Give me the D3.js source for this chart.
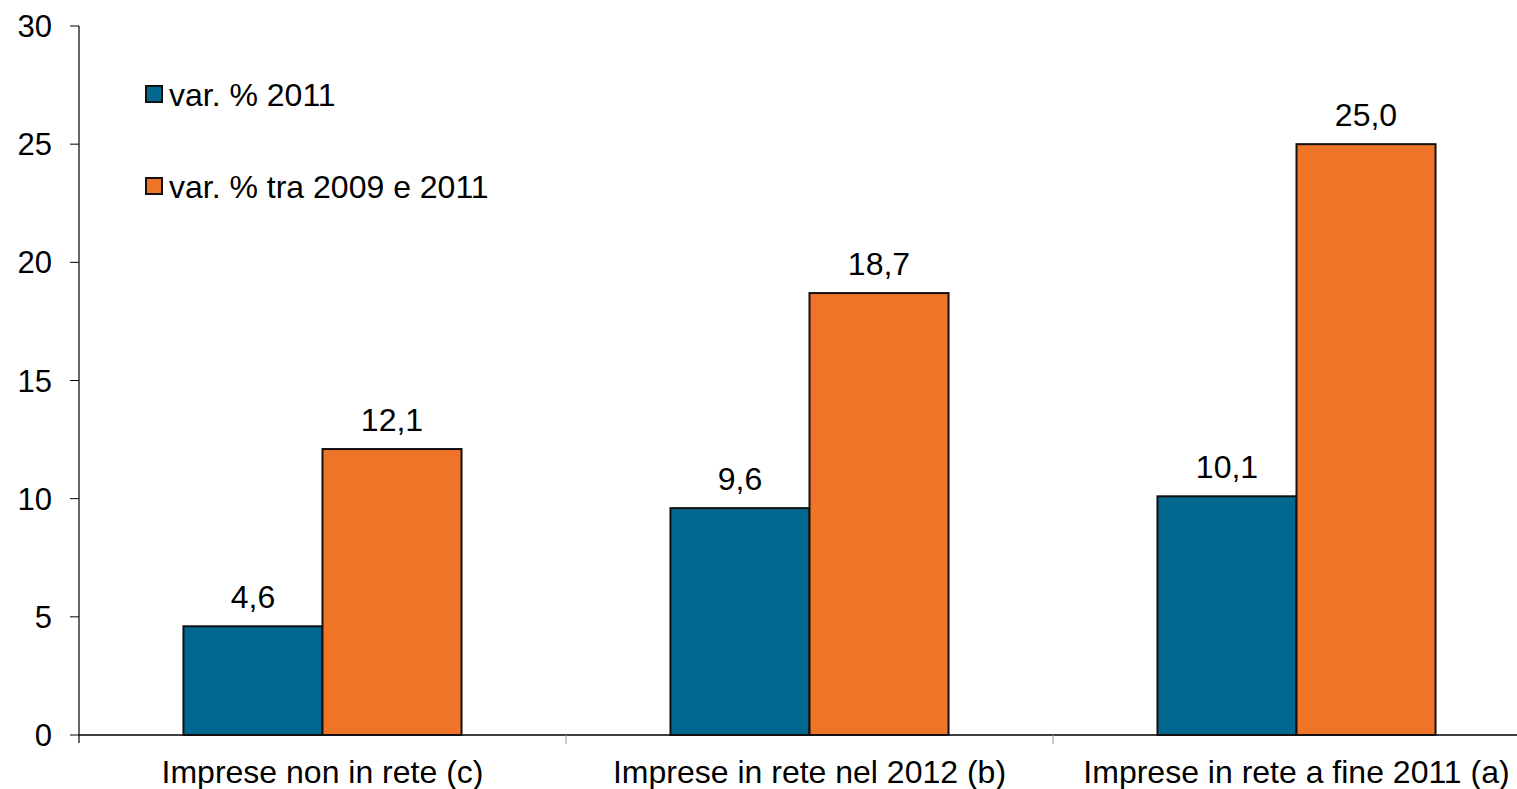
<!DOCTYPE html>
<html>
<head>
<meta charset="utf-8">
<script src="https://cdn.jsdelivr.net/npm/d3@7"></script>
<style>
  html, body { margin: 0; padding: 0; background: #fff; }
  svg { display: block; font-family: "Liberation Sans", Arial, Helvetica, sans-serif; }
</style>
</head>
<body>
<svg id="chart" width="1517" height="789"></svg>
<script>
const categories = ["Imprese non in rete (c)", "Imprese in rete nel 2012 (b)", "Imprese in rete a fine 2011 (a)"];
const seriesNames = ["var. % 2011", "var. % tra 2009 e 2011"];
const var2011 = [4.6, 9.6, 10.1];
const var2009_2011 = [12.1, 18.7, 25.0];
const yTicks = [0, 5, 10, 15, 20, 25, 30];
const colors = ["#02688f", "#f07427"];

const svg = d3.select("#chart");
const fontSize = 32;
const tickFontSize = 31;

const y = d3.scaleLinear().domain([0, 30]).range([735, 26]);
const x0 = d3.scaleBand().domain(categories).range([79, 1540]).paddingInner(0.429).paddingOuter(0.2145);
const x1 = d3.scaleBand().domain(seriesNames).range([0, x0.bandwidth()]);

const series = [var2011, var2009_2011];

// Y axis
const yAxis = svg.append("g").attr("transform", "translate(79,0)");
yAxis.append("line").attr("x1", 0).attr("x2", 0).attr("y1", y(30)).attr("y2", y(0) + 8)
  .attr("stroke", "#000").attr("stroke-width", 1.2);
yAxis.selectAll(".tick").data(yTicks).join("line")
  .attr("x1", -9).attr("x2", 0).attr("y1", d => y(d)).attr("y2", d => y(d))
  .attr("stroke", "#000").attr("stroke-width", 1);
yAxis.selectAll(".lbl").data(yTicks).join("text")
  .attr("x", -27).attr("y", d => y(d)).attr("dy", "0.36em")
  .attr("text-anchor", "end").attr("font-size", tickFontSize).attr("fill", "#000")
  .text(d => d);

// X axis
svg.append("line").attr("x1", 79).attr("x2", 1540).attr("y1", y(0)).attr("y2", y(0))
  .attr("stroke", "#000").attr("stroke-width", 1.5);
const step = x0.step();
const xTickPos = d3.range(1, categories.length + 1).map(i => 79 + i * step);
svg.selectAll(".xtick").data(xTickPos).join("line")
  .attr("x1", d => d).attr("x2", d => d).attr("y1", y(0)).attr("y2", y(0) + 9)
  .attr("stroke", "#999").attr("stroke-width", 1);
svg.selectAll(".xlbl").data(categories).join("text")
  .attr("x", d => x0(d) + x0.bandwidth() / 2).attr("y", 783)
  .attr("text-anchor", "middle").attr("font-size", fontSize).attr("fill", "#000")
  .text(d => d);

// Bars
const groups = svg.selectAll(".grp").data(categories).join("g")
  .attr("transform", d => `translate(${x0(d)},0)`);
groups.each(function(cat, ci) {
  const g = d3.select(this);
  seriesNames.forEach((s, si) => {
    const v = series[si][ci];
    g.append("rect")
      .attr("x", x1(s)).attr("y", y(v))
      .attr("width", x1.bandwidth()).attr("height", y(0) - y(v))
      .attr("fill", colors[si]).attr("stroke", "#111").attr("stroke-width", 2);
    g.append("text")
      .attr("x", x1(s) + x1.bandwidth() / 2).attr("y", y(v) - 18)
      .attr("text-anchor", "middle").attr("font-size", fontSize).attr("fill", "#000")
      .text(v.toFixed(1).replace(".", ","));
  });
});

// Legend
const legend = svg.append("g");
seriesNames.forEach((s, i) => {
  const ly = 94 + i * 92;
  legend.append("rect").attr("x", 146).attr("y", ly - 8).attr("width", 16).attr("height", 16)
    .attr("fill", colors[i]).attr("stroke", "#111").attr("stroke-width", 2);
  legend.append("text").attr("x", 169).attr("y", ly).attr("dy", "0.36em")
    .attr("font-size", fontSize).attr("fill", "#000").text(s);
});
</script>
</body>
</html>
